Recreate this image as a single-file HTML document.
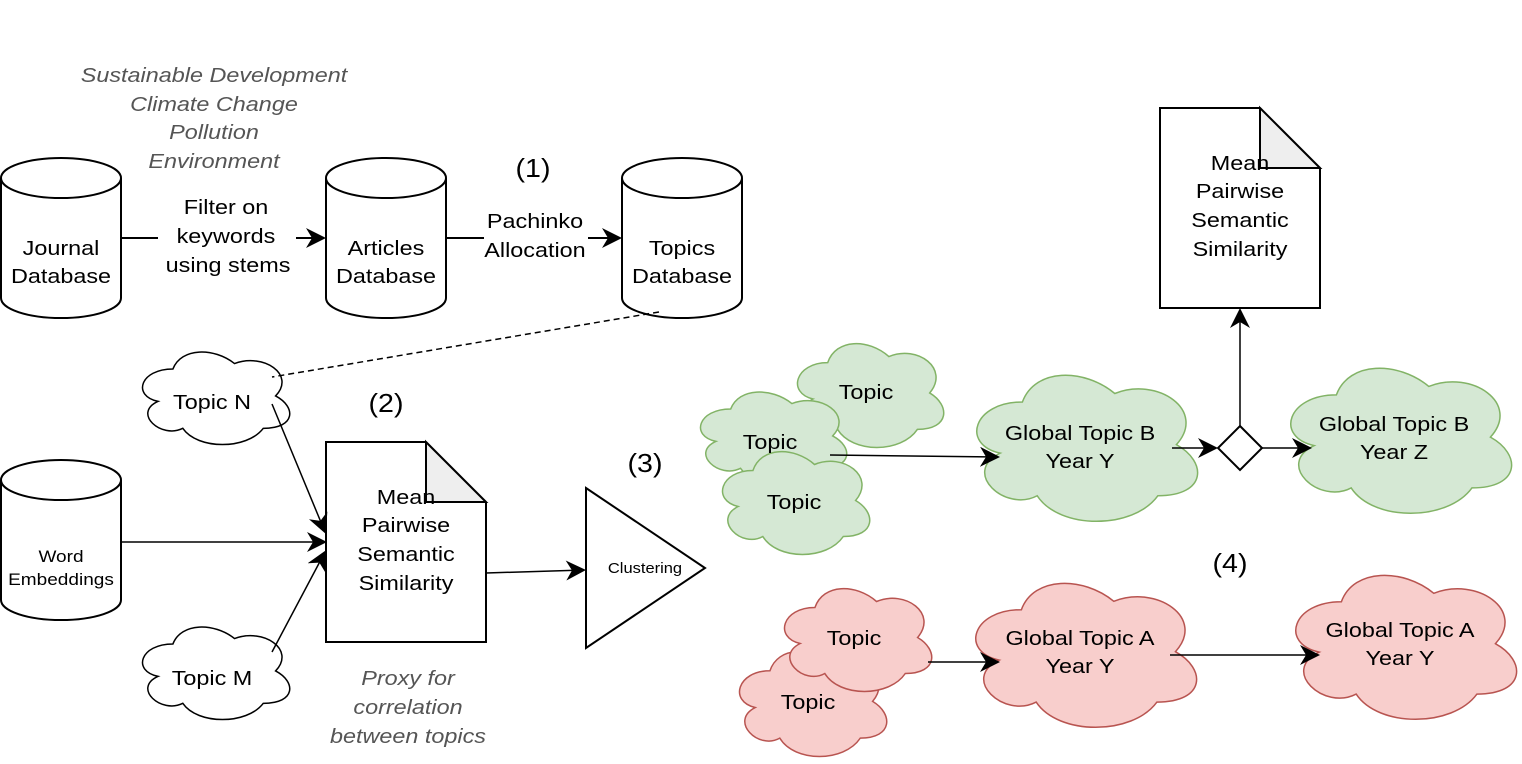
<!DOCTYPE html>
<html><head><meta charset="utf-8"><style>
body{margin:0;background:#fff}
svg{display:block}
text{font-family:"Liberation Sans",sans-serif;font-size:20px;fill:#000;text-anchor:middle}
.it{font-style:italic;fill:#555}
.cl{vector-effect:non-scaling-stroke;stroke-width:1.5}
</style></head><body>
<svg width="1522" height="764" viewBox="0 0 1522 764" xmlns="http://www.w3.org/2000/svg">
<defs>
<marker id="b" viewBox="0 0 10 10" refX="9" refY="5" markerWidth="20" markerHeight="20" markerUnits="userSpaceOnUse" orient="auto"><path d="M0,0 L10,5 L0,10 L3,5 Z" fill="#000"/></marker>
</defs>
<g stroke="#000" stroke-width="2" fill="#fff">
<path d="M1,178 A60,20 0 0 1 121,178 V298 A60,20 0 0 1 1,298 Z M1,178 A60,20 0 0 0 121,178"/>
<path d="M326,178 A60,20 0 0 1 446,178 V298 A60,20 0 0 1 326,298 Z M326,178 A60,20 0 0 0 446,178"/>
<path d="M622,178 A60,20 0 0 1 742,178 V298 A60,20 0 0 1 622,298 Z M622,178 A60,20 0 0 0 742,178"/>
<path d="M1,480 A60,20 0 0 1 121,480 V600 A60,20 0 0 1 1,600 Z M1,480 A60,20 0 0 0 121,480"/>
<path d="M326,442 H426 L486,502 V642 H326 Z"/><path d="M426,442 V502 H486 Z" fill="#eee"/>
<path d="M1160,108 H1260 L1320,168 V308 H1160 Z"/><path d="M1260,108 V168 H1320 Z" fill="#eee"/>
<path d="M586,488 L705,568 L586,648 Z"/>
<path d="M1240,426 L1262,448 L1240,470 L1218,448 Z"/>
</g>
<svg x="140" y="355" width="148" height="90" viewBox="0 0 1 1" preserveAspectRatio="none" overflow="visible"><path class="cl" transform="matrix(1.11,0,0,1.2,-0.055,-0.145)" fill="#fff" stroke="#000" d="M0.25,0.25 C0.05,0.25 0,0.5 0.16,0.55 C0,0.66 0.18,0.9 0.31,0.8 C0.4,1 0.7,1 0.8,0.8 C1,0.8 1,0.6 0.875,0.5 C1,0.3 0.8,0.1 0.625,0.2 C0.5,0.05 0.3,0.05 0.25,0.25 Z"/></svg>
<svg x="140" y="630" width="148" height="90" viewBox="0 0 1 1" preserveAspectRatio="none" overflow="visible"><path class="cl" transform="matrix(1.11,0,0,1.2,-0.055,-0.145)" fill="#fff" stroke="#000" d="M0.25,0.25 C0.05,0.25 0,0.5 0.16,0.55 C0,0.66 0.18,0.9 0.31,0.8 C0.4,1 0.7,1 0.8,0.8 C1,0.8 1,0.6 0.875,0.5 C1,0.3 0.8,0.1 0.625,0.2 C0.5,0.05 0.3,0.05 0.25,0.25 Z"/></svg>
<svg x="795" y="347" width="147" height="101" viewBox="0 0 1 1" preserveAspectRatio="none" overflow="visible"><path class="cl" transform="matrix(1.11,0,0,1.2,-0.055,-0.145)" fill="#d5e8d4" stroke="#82b366" d="M0.25,0.25 C0.05,0.25 0,0.5 0.16,0.55 C0,0.66 0.18,0.9 0.31,0.8 C0.4,1 0.7,1 0.8,0.8 C1,0.8 1,0.6 0.875,0.5 C1,0.3 0.8,0.1 0.625,0.2 C0.5,0.05 0.3,0.05 0.25,0.25 Z"/></svg>
<svg x="698" y="395" width="147" height="90" viewBox="0 0 1 1" preserveAspectRatio="none" overflow="visible"><path class="cl" transform="matrix(1.11,0,0,1.2,-0.055,-0.145)" fill="#d5e8d4" stroke="#82b366" d="M0.25,0.25 C0.05,0.25 0,0.5 0.16,0.55 C0,0.66 0.18,0.9 0.31,0.8 C0.4,1 0.7,1 0.8,0.8 C1,0.8 1,0.6 0.875,0.5 C1,0.3 0.8,0.1 0.625,0.2 C0.5,0.05 0.3,0.05 0.25,0.25 Z"/></svg>
<svg x="720" y="455" width="148" height="100" viewBox="0 0 1 1" preserveAspectRatio="none" overflow="visible"><path class="cl" transform="matrix(1.11,0,0,1.2,-0.055,-0.145)" fill="#d5e8d4" stroke="#82b366" d="M0.25,0.25 C0.05,0.25 0,0.5 0.16,0.55 C0,0.66 0.18,0.9 0.31,0.8 C0.4,1 0.7,1 0.8,0.8 C1,0.8 1,0.6 0.875,0.5 C1,0.3 0.8,0.1 0.625,0.2 C0.5,0.05 0.3,0.05 0.25,0.25 Z"/></svg>
<svg x="973" y="380" width="222" height="142" viewBox="0 0 1 1" preserveAspectRatio="none" overflow="visible"><path class="cl" transform="matrix(1.11,0,0,1.2,-0.055,-0.145)" fill="#d5e8d4" stroke="#82b366" d="M0.25,0.25 C0.05,0.25 0,0.5 0.16,0.55 C0,0.66 0.18,0.9 0.31,0.8 C0.4,1 0.7,1 0.8,0.8 C1,0.8 1,0.6 0.875,0.5 C1,0.3 0.8,0.1 0.625,0.2 C0.5,0.05 0.3,0.05 0.25,0.25 Z"/></svg>
<svg x="1287" y="373" width="222" height="141" viewBox="0 0 1 1" preserveAspectRatio="none" overflow="visible"><path class="cl" transform="matrix(1.11,0,0,1.2,-0.055,-0.145)" fill="#d5e8d4" stroke="#82b366" d="M0.25,0.25 C0.05,0.25 0,0.5 0.16,0.55 C0,0.66 0.18,0.9 0.31,0.8 C0.4,1 0.7,1 0.8,0.8 C1,0.8 1,0.6 0.875,0.5 C1,0.3 0.8,0.1 0.625,0.2 C0.5,0.05 0.3,0.05 0.25,0.25 Z"/></svg>
<svg x="737" y="655" width="148" height="102" viewBox="0 0 1 1" preserveAspectRatio="none" overflow="visible"><path class="cl" transform="matrix(1.11,0,0,1.2,-0.055,-0.145)" fill="#f8cecc" stroke="#b85450" d="M0.25,0.25 C0.05,0.25 0,0.5 0.16,0.55 C0,0.66 0.18,0.9 0.31,0.8 C0.4,1 0.7,1 0.8,0.8 C1,0.8 1,0.6 0.875,0.5 C1,0.3 0.8,0.1 0.625,0.2 C0.5,0.05 0.3,0.05 0.25,0.25 Z"/></svg>
<svg x="782" y="592" width="148" height="100" viewBox="0 0 1 1" preserveAspectRatio="none" overflow="visible"><path class="cl" transform="matrix(1.11,0,0,1.2,-0.055,-0.145)" fill="#f8cecc" stroke="#b85450" d="M0.25,0.25 C0.05,0.25 0,0.5 0.16,0.55 C0,0.66 0.18,0.9 0.31,0.8 C0.4,1 0.7,1 0.8,0.8 C1,0.8 1,0.6 0.875,0.5 C1,0.3 0.8,0.1 0.625,0.2 C0.5,0.05 0.3,0.05 0.25,0.25 Z"/></svg>
<svg x="972" y="588" width="222" height="140" viewBox="0 0 1 1" preserveAspectRatio="none" overflow="visible"><path class="cl" transform="matrix(1.11,0,0,1.2,-0.055,-0.145)" fill="#f8cecc" stroke="#b85450" d="M0.25,0.25 C0.05,0.25 0,0.5 0.16,0.55 C0,0.66 0.18,0.9 0.31,0.8 C0.4,1 0.7,1 0.8,0.8 C1,0.8 1,0.6 0.875,0.5 C1,0.3 0.8,0.1 0.625,0.2 C0.5,0.05 0.3,0.05 0.25,0.25 Z"/></svg>
<svg x="1292" y="580" width="222" height="140" viewBox="0 0 1 1" preserveAspectRatio="none" overflow="visible"><path class="cl" transform="matrix(1.11,0,0,1.2,-0.055,-0.145)" fill="#f8cecc" stroke="#b85450" d="M0.25,0.25 C0.05,0.25 0,0.5 0.16,0.55 C0,0.66 0.18,0.9 0.31,0.8 C0.4,1 0.7,1 0.8,0.8 C1,0.8 1,0.6 0.875,0.5 C1,0.3 0.8,0.1 0.625,0.2 C0.5,0.05 0.3,0.05 0.25,0.25 Z"/></svg>
<g stroke="#000" stroke-width="2" fill="none">
<path d="M121,238 H158 M296,238 H324" marker-end="url(#b)"/>
<path d="M446,238 H484 M588,238 H620" marker-end="url(#b)"/>
<path d="M659,312 L272,377" stroke-dasharray="6,4" stroke-width="1.5"/>
<path d="M272,404 L325,532" stroke-width="1.5" marker-end="url(#b)"/>
<path d="M121,542 H325" stroke-width="1.5" marker-end="url(#b)"/>
<path d="M272,652 L325,552" stroke-width="1.5" marker-end="url(#b)"/>
<path d="M486,573 L584,570" stroke-width="1.5" marker-end="url(#b)"/>
<path d="M830,455 L998,457" stroke-width="1.5" marker-end="url(#b)"/>
<path d="M1172,448 L1216,448" stroke-width="1.5" marker-end="url(#b)"/>
<path d="M1262,448 L1310,448" stroke-width="1.5" marker-end="url(#b)"/>
<path d="M1240,426 V310" stroke-width="1.5" marker-end="url(#b)"/>
<path d="M928,662 L998,662" stroke-width="1.5" marker-end="url(#b)"/>
<path d="M1170,655 L1318,655" stroke-width="1.5" marker-end="url(#b)"/>
</g>
<g>
<text class="it" transform="translate(214 82) scale(1.17 1)">Sustainable Development</text>
<text class="it" transform="translate(214 111) scale(1.17 1)">Climate Change</text>
<text class="it" transform="translate(214 139) scale(1.17 1)">Pollution</text>
<text class="it" transform="translate(214 168) scale(1.17 1)">Environment</text>
<text transform="translate(533 177) scale(1.1 1)" style="font-size:26px">(1)</text>
<text transform="translate(61 255) scale(1.17 1)">Journal</text><text transform="translate(61 283) scale(1.17 1)">Database</text>
<text transform="translate(226 214) scale(1.17 1)">Filter on</text><text transform="translate(226 243) scale(1.17 1)">keywords</text><text transform="translate(228 272) scale(1.17 1)">using stems</text>
<text transform="translate(386 255) scale(1.17 1)">Articles</text><text transform="translate(386 283) scale(1.17 1)">Database</text>
<text transform="translate(535 228) scale(1.17 1)">Pachinko</text><text transform="translate(535 257) scale(1.17 1)">Allocation</text>
<text transform="translate(682 255) scale(1.17 1)">Topics</text><text transform="translate(682 283) scale(1.17 1)">Database</text>
<text transform="translate(212 409) scale(1.17 1)">Topic N</text>
<text transform="translate(212 685) scale(1.17 1)">Topic M</text>
<text transform="translate(386 412) scale(1.1 1)" style="font-size:26px">(2)</text>
<text transform="translate(406 504) scale(1.17 1)">Mean</text><text transform="translate(406 532) scale(1.17 1)">Pairwise</text><text transform="translate(406 561) scale(1.17 1)">Semantic</text><text transform="translate(406 590) scale(1.17 1)">Similarity</text>
<text transform="translate(61 562) scale(1.12 1)" style="font-size:17px">Word</text><text transform="translate(61 585) scale(1.12 1)" style="font-size:17px">Embeddings</text>
<text class="it" transform="translate(408 685) scale(1.17 1)">Proxy for</text><text class="it" transform="translate(408 714) scale(1.17 1)">correlation</text><text class="it" transform="translate(408 743) scale(1.17 1)">between topics</text>
<text transform="translate(645 472) scale(1.1 1)" style="font-size:26px">(3)</text>
<text transform="translate(645 573) scale(1.1 1)" style="font-size:15px">Clustering</text>
<text transform="translate(1240 170) scale(1.17 1)">Mean</text><text transform="translate(1240 198) scale(1.17 1)">Pairwise</text><text transform="translate(1240 227) scale(1.17 1)">Semantic</text><text transform="translate(1240 256) scale(1.17 1)">Similarity</text>
<text transform="translate(866 399) scale(1.17 1)">Topic</text>
<text transform="translate(770 449) scale(1.17 1)">Topic</text>
<text transform="translate(794 509) scale(1.17 1)">Topic</text>
<text transform="translate(1080 440) scale(1.17 1)">Global Topic B</text><text transform="translate(1080 468) scale(1.17 1)">Year Y</text>
<text transform="translate(1394 431) scale(1.17 1)">Global Topic B</text><text transform="translate(1394 459) scale(1.17 1)">Year Z</text>
<text transform="translate(1230 572) scale(1.1 1)" style="font-size:26px">(4)</text>
<text transform="translate(854 645) scale(1.17 1)">Topic</text>
<text transform="translate(808 709) scale(1.17 1)">Topic</text>
<text transform="translate(1080 645) scale(1.17 1)">Global Topic A</text><text transform="translate(1080 673) scale(1.17 1)">Year Y</text>
<text transform="translate(1400 637) scale(1.17 1)">Global Topic A</text><text transform="translate(1400 665) scale(1.17 1)">Year Y</text>
</g>
</svg>
</body></html>
